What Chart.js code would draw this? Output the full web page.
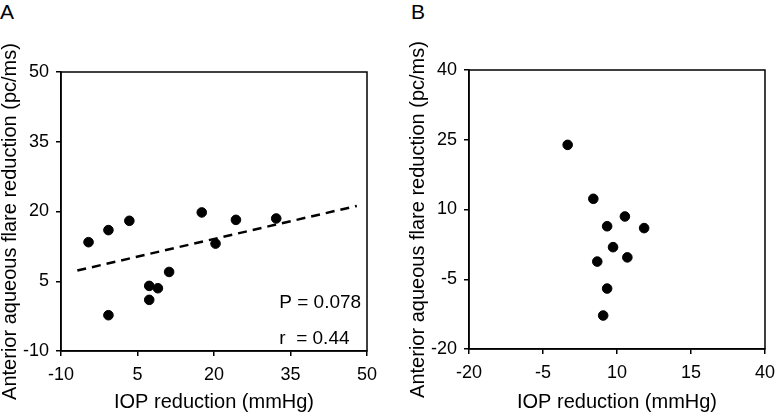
<!DOCTYPE html>
<html>
<head>
<meta charset="utf-8">
<script src="https://cdn.jsdelivr.net/npm/chart.js@4.4.1/dist/chart.umd.min.js"></script>
<style>
    body { margin: 0; background: #fff; }
    #wrap { position: relative; width: 783px; height: 414px; font-family: "Liberation Sans", Arial, sans-serif; }
    .panel { position: absolute; top: 0; height: 414px; }
    .letter { position: absolute; font-size: 21px; color: #000; line-height: 1; }
</style>
</head>
<body>
<div id="wrap">
    <div class="letter" style="left:0px; top:1px;">A</div>
    <div class="letter" style="left:411px; top:1px;">B</div>
    <div class="panel" style="left:0px; width:390px;"><canvas id="chartA" width="390" height="414"></canvas></div>
    <div class="panel" style="left:390px; width:393px;"><canvas id="chartB" width="393" height="414"></canvas></div>
</div>
<script>
// panel A
const iopA = [-4.6, -0.7, 3.4, 17.6, 24.3, 32.2, 20.3, 11.2, 7.3, 9.0, 7.3, -0.7];
const flareA = [13.4, 16.0, 18.0, 19.8, 18.2, 18.5, 13.1, 7.0, 4.0, 3.5, 1.0, -2.3];
const trendX = [-6.8, 48];
const trendY = [7.3, 21.2];
const xTicksA = ['-10', '5', '20', '35', '50'];
const yTicksA = ['-10', '5', '20', '35', '50'];
const statsText = ['P = 0.078', 'r  = 0.44'];
const statsX = [32.8, 32.8];
const statsY = [0.3, -7.4];

// panel B
const iopB = [0.0, 5.2, 11.6, 8.0, 15.5, 9.2, 12.1, 6.0, 8.0, 7.2];
const flareB = [23.9, 12.3, 8.5, 6.4, 6.0, 1.9, -0.3, -1.2, -7.0, -12.8];
const xTicksB = ['-20', '-5', '10', '15', '40'];
const yTicksB = ['-20', '-5', '10', '25', '40'];

const xTitle = 'IOP reduction (mmHg)';
const yTitle = 'Anterior aqueous flare reduction (pc/ms)';

const fontFam = '"Liberation Sans", Arial, sans-serif';

function toPoints(xs, ys) {
    return xs.map((x, i) => ({x: x, y: ys[i]}));
}

// frame round the plot area + y axis title (sits a bit below centre in the original)
const boxPlugin = {
    id: 'box',
    afterDraw(chart) {
        const a = chart.chartArea;
        const ctx = chart.ctx;
        ctx.save();
        ctx.strokeStyle = '#000';
        ctx.lineWidth = 1.5;
        ctx.strokeRect(a.left, a.top, a.right - a.left, a.bottom - a.top);

        const ys = chart.scales.y;
        ctx.translate(ys.left + 10, (a.top + a.bottom) / 2 + 10);
        ctx.rotate(-Math.PI / 2);
        ctx.fillStyle = '#000';
        ctx.font = '20px ' + fontFam;
        ctx.textAlign = 'center';
        ctx.textBaseline = 'middle';
        ctx.fillText(yTitle, 0, 0);
        ctx.restore();
    }
};

const statsPlugin = {
    id: 'stats',
    afterDatasetsDraw(chart) {
        if (chart.canvas.id !== 'chartA') return;
        const ctx = chart.ctx;
        ctx.save();
        ctx.fillStyle = '#000';
        ctx.font = '19px ' + fontFam;
        ctx.textAlign = 'left';
        ctx.textBaseline = 'middle';
        for (let i = 0; i < statsText.length; i++) {
            const px = chart.scales.x.getPixelForValue(statsX[i]);
            const py = chart.scales.y.getPixelForValue(statsY[i]);
            ctx.fillText(statsText[i], px, py);
        }
        ctx.restore();
    }
};

function makeOptions(xmin, xmax, ymin, ymax, xLabels, yLabels, padLeft, padRight, padTop, xHeight) {
    return {
        responsive: false,
        animation: false,
        layout: { padding: { left: padLeft, right: padRight, top: padTop, bottom: 0 } },
        plugins: { legend: { display: false }, tooltip: { enabled: false } },
        scales: {
            x: {
                type: 'linear',
                min: xmin, max: xmax,
                afterFit: function(s) { s.height = xHeight; },
                ticks: {
                    stepSize: 15,
                    color: '#000',
                    font: { family: fontFam, size: 18 },
                    padding: 8,
                    maxRotation: 0,
                    callback: (v, i) => xLabels[i]
                },
                grid: { drawOnChartArea: false, color: '#000', lineWidth: 1.5, tickLength: 5 },
                border: { color: '#000', width: 1.5 },
                title: {
                    display: true, text: xTitle, color: '#000',
                    font: { family: fontFam, size: 20 },
                    padding: { top: 0, bottom: 0 }
                }
            },
            y: {
                type: 'linear',
                min: ymin, max: ymax,
                afterFit: function(s) { s.width = 61; },
                ticks: {
                    stepSize: 15,
                    color: '#000',
                    font: { family: fontFam, size: 18 },
                    padding: 7,
                    callback: (v, i) => yLabels[i]
                },
                grid: { drawOnChartArea: false, color: '#000', lineWidth: 1.5, tickLength: 5 },
                border: { color: '#000', width: 1.5 },
                title: { display: false }
            }
        }
    };
}

const dotStyle = {
    backgroundColor: '#000',
    borderColor: '#000',
    pointRadius: 4.8,
    pointHoverRadius: 4.8,
    showLine: false
};

const chartA = new Chart(document.getElementById('chartA').getContext('2d'), {
    type: 'scatter',
    data: {
        datasets: [
            Object.assign({ label: 'A', data: toPoints(iopA, flareA) }, dotStyle),
            {
                type: 'line',
                label: 'trend',
                data: toPoints(trendX, trendY),
                borderColor: '#000',
                borderWidth: 2.5,
                borderDash: [9, 6],
                pointRadius: 0,
                fill: false
            }
        ]
    },
    options: makeOptions(-10, 50, -10, 50, xTicksA, yTicksA, 0, 23, 72, 63),
    plugins: [boxPlugin, statsPlugin]
});

const chartB = new Chart(document.getElementById('chartB').getContext('2d'), {
    type: 'scatter',
    data: {
        datasets: [
            Object.assign({ label: 'B', data: toPoints(iopB, flareB) }, dotStyle)
        ]
    },
    options: makeOptions(-20, 40, -20, 40, xTicksB, yTicksB, 18, 11, 70, 65),
    plugins: [boxPlugin]
});
</script>
</body>
</html>
